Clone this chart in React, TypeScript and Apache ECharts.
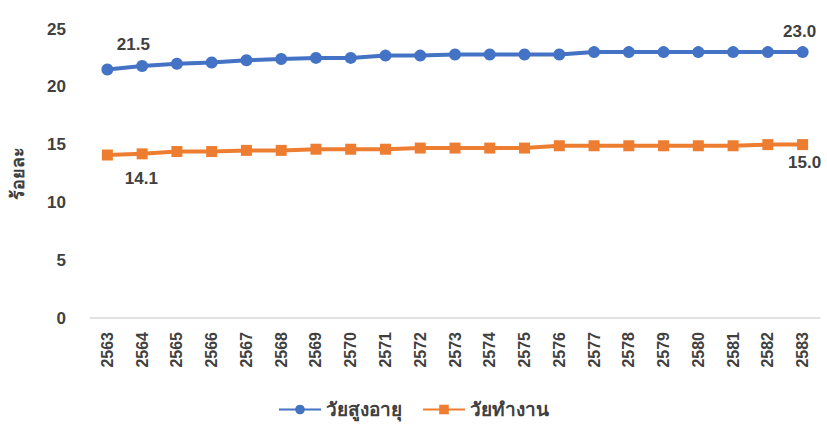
import React, { useEffect, useRef } from "react";
import * as echarts from "echarts";

const years = ["2563","2564","2565","2566","2567","2568","2569","2570","2571","2572","2573","2574","2575","2576","2577","2578","2579","2580","2581","2582","2583"];
const elderly = [21.5, 21.8, 22.0, 22.1, 22.3, 22.4, 22.5, 22.5, 22.7, 22.7, 22.8, 22.8, 22.8, 22.8, 23.0, 23.0, 23.0, 23.0, 23.0, 23.0, 23.0];
const working = [14.1, 14.2, 14.4, 14.4, 14.5, 14.5, 14.6, 14.6, 14.6, 14.7, 14.7, 14.7, 14.7, 14.9, 14.9, 14.9, 14.9, 14.9, 14.9, 15.0, 15.0];
const seriesNames = ["วัยสูงอายุ", "วัยทำงาน"];
const yTicks = { min: 0, max: 25, interval: 5 };

const FONT = "'Liberation Sans', Arial, 'Noto Sans', sans-serif";

export default function App() {
  const ref = useRef<HTMLDivElement>(null);
  useEffect(() => {
    if (!ref.current) return;
    const chart = echarts.init(ref.current, null, { renderer: "svg" });
    const last = years.length - 1;
    const labelStyle = { fontFamily: FONT, fontWeight: "bold", fontSize: 17, color: "#404040" };
    chart.setOption({
      animation: false,
      backgroundColor: "#ffffff",
      grid: { left: 90, right: 7, top: 29, bottom: 111, containLabel: false, outerBoundsMode: "none" },
      legend: {
        bottom: 5,
        left: "center",
        itemWidth: 42,
        itemHeight: 12,
        itemGap: 20,
        textStyle: { fontFamily: FONT, fontWeight: "bold", fontSize: 19, color: "#404040" },
        data: seriesNames,
      },
      xAxis: {
        type: "category",
        data: years,
        boundaryGap: true,
        axisLine: { lineStyle: { color: "#d9d9d9", width: 1.5 } },
        axisTick: { show: false },
        axisLabel: {
          rotate: 90,
          margin: 14,
          interval: 0,
          fontFamily: FONT,
          fontWeight: "bold",
          fontSize: 16,
          color: "#404040",
        },
      },
      yAxis: {
        type: "value",
        min: yTicks.min,
        max: yTicks.max,
        interval: yTicks.interval,
        name: "ร้อยละ",
        nameLocation: "middle",
        nameGap: 63,
        nameRotate: 90,
        nameTextStyle: { fontFamily: FONT, fontWeight: "bold", fontSize: 18, color: "#404040" },
        axisLine: { show: false },
        axisTick: { show: false },
        splitLine: { show: false },
        axisLabel: { margin: 24, fontFamily: FONT, fontWeight: "bold", fontSize: 17, color: "#404040" },
      },
      series: [
        {
          name: seriesNames[0],
          type: "line",
          data: elderly.map((v, i) => ({
            value: v,
            label: i === 0
              ? { show: true, position: "top", offset: [26, -5], formatter: (p: any) => p.value.toFixed(1), ...labelStyle }
              : i === last
              ? { show: true, position: "top", offset: [-3, -1], formatter: (p: any) => p.value.toFixed(1), ...labelStyle }
              : { show: false },
          })),
          symbol: "circle",
          symbolSize: 12,
          lineStyle: { color: "#4472C4", width: 4 },
          itemStyle: { color: "#4472C4" },
        },
        {
          name: seriesNames[1],
          type: "line",
          data: working.map((v, i) => ({
            value: v,
            label: i === 0
              ? { show: true, position: "bottom", offset: [34, 4], formatter: (p: any) => p.value.toFixed(1), ...labelStyle }
              : i === last
              ? { show: true, position: "bottom", offset: [2, -1], formatter: (p: any) => p.value.toFixed(1), ...labelStyle }
              : { show: false },
          })),
          symbol: "rect",
          symbolSize: 11,
          lineStyle: { color: "#ED7D31", width: 4 },
          itemStyle: { color: "#ED7D31" },
        },
      ],
    });
    return () => chart.dispose();
  }, []);
  return <div ref={ref} style={{ position: "absolute", left: 0, top: 0, width: 827, height: 429 }} />;
}
